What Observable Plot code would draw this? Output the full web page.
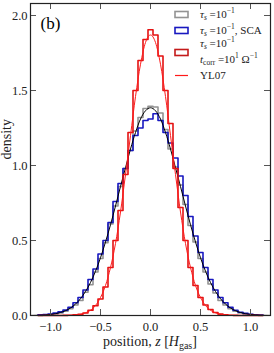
<!DOCTYPE html>
<html><head><meta charset="utf-8">
<script src="https://cdn.jsdelivr.net/npm/d3@7"></script>
<script src="https://cdn.jsdelivr.net/npm/@observablehq/plot@0.6"></script>
<style>
html,body{margin:0;padding:0;background:#fff;}
#chart{position:relative;width:274px;height:353px;}
</style></head><body><div id="chart"></div>
<script>
// histogram bin centres (bin width 0.05)
const binCenters = [-1.10,-1.05,-1.00,-0.95,-0.90,-0.85,-0.80,-0.75,-0.70,-0.65,-0.60,-0.55,-0.50,-0.45,-0.40,-0.35,-0.30,-0.25,-0.20,-0.15,-0.10,-0.05,0.00,0.05,0.10,0.15,0.20,0.25,0.30,0.35,0.40,0.45,0.50,0.55,0.60,0.65,0.70,0.75,0.80,0.85,0.90,0.95,1.00,1.05,1.10];
const binWidth = 0.05;
// tau_s = 0.1 (gray)
const grayHist = [0.001,0.003,0.006,0.010,0.017,0.028,0.046,0.07,0.10,0.155,0.205,0.29,0.38,0.485,0.61,0.73,0.86,0.98,1.10,1.23,1.32,1.38,1.395,1.39,1.35,1.24,1.11,0.99,0.87,0.74,0.60,0.49,0.38,0.29,0.21,0.15,0.10,0.07,0.045,0.028,0.017,0.010,0.006,0.003,0.001];
// tau_s = 0.1, SCA (blue)
const blueHist = [0.004,0.006,0.010,0.016,0.024,0.036,0.055,0.085,0.12,0.17,0.24,0.31,0.41,0.50,0.62,0.76,0.88,0.98,1.10,1.20,1.25,1.30,1.31,1.345,1.30,1.22,1.15,1.05,0.93,0.80,0.66,0.53,0.42,0.32,0.24,0.17,0.12,0.085,0.055,0.035,0.022,0.014,0.008,0.005,0.003];
// tau_s = 0.1, t_corr = 10 /Omega (red)
const redHist = [0,0,0,0,0,0.001,0.002,0.004,0.008,0.017,0.035,0.065,0.11,0.19,0.32,0.50,0.70,0.94,1.22,1.50,1.70,1.84,1.905,1.87,1.73,1.50,1.28,0.98,0.72,0.50,0.32,0.20,0.12,0.07,0.04,0.02,0.009,0.004,0.002,0.001,0,0,0,0,0];
// smooth model curves
const curveZ = [-1.20,-1.15,-1.10,-1.05,-1.00,-0.95,-0.90,-0.85,-0.80,-0.75,-0.70,-0.65,-0.60,-0.55,-0.50,-0.45,-0.40,-0.35,-0.30,-0.25,-0.20,-0.15,-0.10,-0.05,0.00,0.05,0.10,0.15,0.20,0.25,0.30,0.35,0.40,0.45,0.50,0.55,0.60,0.65,0.70,0.75,0.80,0.85,0.90,0.95,1.00,1.05,1.10,1.15,1.20];
const blackCurve = [0.0005,0.001,0.002,0.004,0.007,0.012,0.02,0.032,0.05,0.076,0.112,0.16,0.22,0.295,0.385,0.49,0.605,0.73,0.86,0.985,1.11,1.22,1.31,1.365,1.385,1.365,1.31,1.22,1.11,0.985,0.86,0.73,0.605,0.49,0.385,0.295,0.22,0.16,0.112,0.076,0.05,0.032,0.02,0.012,0.007,0.004,0.002,0.001,0.0005];
const redCurve = [0,0,0,0,0.0001,0.0002,0.0004,0.0008,0.0015,0.0036,0.008,0.018,0.035,0.067,0.12,0.20,0.32,0.48,0.69,0.94,1.20,1.46,1.675,1.82,1.87,1.82,1.675,1.46,1.20,0.94,0.69,0.48,0.32,0.20,0.12,0.067,0.035,0.018,0.008,0.0036,0.0015,0.0008,0.0004,0.0002,0.0001,0,0,0,0];
const xTicks = [-1.0,-0.5,0.0,0.5,1.0];
const yTicks = [0.0,0.5,1.0,1.5,2.0];

const cGray = "#939393", cBlue = "#1818c0", cRed = "#e41212", cRedLine = "#ff1a1a";
const serif = "'Liberation Serif','Times New Roman','DejaVu Serif',serif";

function steps(values){
  const pts = binCenters.map((c,i)=>({x:c-binWidth/2, y:values[i]}));
  pts.push({x:binCenters[binCenters.length-1]+binWidth/2, y:values[values.length-1]});
  return pts;
}
const curvePts = vals => curveZ.map((z,i)=>({x:z, y:vals[i]}));

const W=274, H=353, mL=30, mR=4, mT=3, mB=38;
const fw = W-mL-mR, fh = H-mT-mB, tk = 6;
const fmt = d3.format(".1f");

const plot = Plot.plot({
  width:W, height:H, marginLeft:mL, marginRight:mR, marginTop:mT, marginBottom:mB,
  style:{fontFamily:serif, fontSize:"12.5px", color:"#222", background:"#fff"},
  x:{domain:[-1.2,1.2]},
  y:{domain:[0,2.08]},
  marks:[
    Plot.line(steps(grayHist),{x:"x",y:"y",curve:"step-after",stroke:cGray,strokeWidth:1.6}),
    Plot.line(steps(blueHist),{x:"x",y:"y",curve:"step-after",stroke:cBlue,strokeWidth:1.6}),
    Plot.line(curvePts(blackCurve),{x:"x",y:"y",curve:"monotone-x",stroke:"#000",strokeWidth:1}),
    Plot.line(steps(redHist),{x:"x",y:"y",curve:"step-after",stroke:cRed,strokeWidth:1.6}),
    Plot.line(curvePts(redCurve),{x:"x",y:"y",curve:"monotone-x",stroke:cRedLine,strokeWidth:1}),
    // inward ticks on all four sides
    Plot.ruleX(xTicks,{x:d=>d, insetTop:fh-tk, stroke:"#555"}),
    Plot.ruleX(xTicks,{x:d=>d, insetBottom:fh-tk, stroke:"#555"}),
    Plot.ruleY(yTicks,{y:d=>d, insetRight:fw-tk, stroke:"#555"}),
    Plot.ruleY(yTicks,{y:d=>d, insetLeft:fw-tk, stroke:"#555"}),
    Plot.axisX({ticks:xTicks, tickSize:0, tickPadding:7, tickFormat:fmt, label:null, fontSize:12.5}),
    Plot.axisY({ticks:yTicks, tickSize:0, tickPadding:3, tickFormat:fmt, label:null, fontSize:12.5}),
    Plot.frame({stroke:"#222", strokeWidth:1.2}),
    Plot.text(["(b)"],{frameAnchor:"top-left", dx:10, dy:13, fontSize:17, textAnchor:"start", lineAnchor:"top", fill:"#000"}),
    Plot.text(["density"],{frameAnchor:"left", rotate:-90, dx:-24, fontSize:14, fill:"#222"})
  ]
});
document.getElementById("chart").appendChild(plot);

// rich-text helper (italics, sub/superscripts)
function rich(sel, parts){
  let prev = 0;
  for (const p of parts){
    const sh = p.shift || 0;
    const t = sel.append("tspan").text(p.t);
    if (sh !== prev) t.attr("dy", sh - prev);
    if (p.i) t.attr("font-style","italic");
    if (p.s) t.attr("font-size", p.s);
    prev = sh;
  }
  return sel;
}
const svg = d3.select(plot);
const lg = svg.append("g").attr("font-family", serif).attr("font-size", 11).attr("fill","#222").attr("text-anchor","start");
const bx = 175, bw = 13, tx = 200;
const tau = [{t:"τ",i:true},{t:"s",i:true,shift:2.5,s:7.5},{t:" =10",shift:0},{t:"−1",shift:-4.5,s:7.5}];
function box(y, c){ lg.append("rect").attr("x",bx).attr("y",y).attr("width",bw).attr("height",6).attr("fill","none").attr("stroke",c).attr("stroke-width",1.6); }
box(11.5, cGray);
rich(lg.append("text").attr("x",tx).attr("y",17.5), tau);
box(27.5, cBlue);
rich(lg.append("text").attr("x",tx).attr("y",33.5), [...tau, {t:", SCA", shift:0}]);
box(49.5, "#c41a1a");
rich(lg.append("text").attr("x",tx).attr("y",46.5), tau);
rich(lg.append("text").attr("x",tx).attr("y",62.5), [{t:"t",i:true},{t:"corr",shift:2.5,s:7.5},{t:" =10",shift:0},{t:"1",shift:-4.5,s:7.5},{t:" Ω",shift:0},{t:"−1",shift:-4.5,s:7.5}]);
lg.append("line").attr("x1",bx).attr("x2",bx+bw).attr("y1",75.5).attr("y2",75.5).attr("stroke",cRedLine).attr("stroke-width",1.2);
lg.append("text").attr("x",tx).attr("y",79).text("YL07");

// x-axis label
rich(svg.append("text").attr("x", mL + fw/2).attr("y", 346).attr("text-anchor","middle")
  .attr("font-family", serif).attr("font-size", 14).attr("fill","#222"),
  [{t:"position, "},{t:"z",i:true},{t:" ["},{t:"H",i:true},{t:"gas",shift:3,s:10},{t:"]",shift:0}]);
</script>
</body></html>
